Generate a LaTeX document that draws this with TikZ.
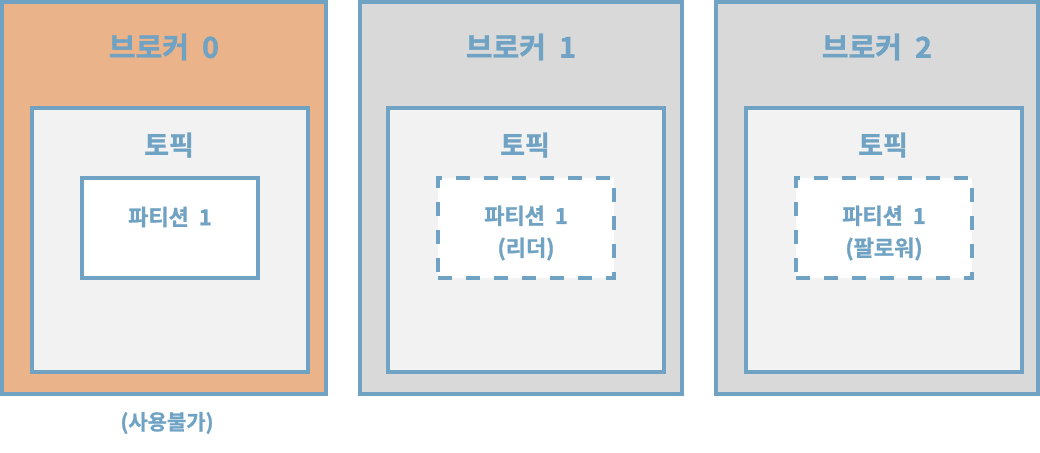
\documentclass[tikz,border=0pt]{standalone}
\usepackage{fontspec}
\newfontfamily\kr[FakeBold=1]{Noto Sans CJK KR Bold}
\definecolor{lineblue}{HTML}{6FA2C3}
\definecolor{brokerorange}{HTML}{EAB38A}
\definecolor{brokergray}{HTML}{D9D9D9}
\definecolor{topicgray}{HTML}{F2F2F2}
\newcommand{\wsp}{\hspace{0.45em}}
\tikzset{
  box/.style={draw=lineblue, line width=4pt, inner sep=0pt},
  brokerbox/.style={box, minimum width=322pt, minimum height=392pt, fill=brokergray},
  topicbox/.style={box, minimum width=276pt, minimum height=264pt, fill=topicgray},
  partbox/.style={box, minimum width=176pt, minimum height=100pt, fill=white},
  dashedpart/.style={partbox, dash pattern=on 14pt off 14pt},
  brokertext/.style={text=lineblue, font=\kr\fontsize{29pt}{32pt}\selectfont, inner sep=0pt},
  topictext/.style={text=lineblue, font=\kr\fontsize{27pt}{30pt}\selectfont, inner sep=0pt},
  smalltext/.style={text=lineblue, font=\kr\fontsize{22pt}{32pt}\selectfont, inner sep=0pt, align=center},
}
\begin{document}
\begin{tikzpicture}[x=1pt,y=-1pt]
\useasboundingbox (0,0) rectangle (1040,452);
% broker 0
\node[brokerbox, fill=brokerorange, minimum width=324pt] (b0) at (164,198) {};
\node[topicbox] (t0) at (170,240) {};
\node[partbox] (p0) at (170,228) {};
\node[brokertext] (b0l) at (164,47) {브로커\wsp 0};
\node[topictext] (t0l) at (169,145) {토픽};
\node[smalltext] (p0l) at (170,217) {파티션\wsp 1};
\node[smalltext, font=\kr\fontsize{21pt}{30pt}\selectfont] (u0) at (167,423) {(사용불가)};
% broker 1
\node[brokerbox] (b1) at (521,198) {};
\node[topicbox] (t1) at (526,240) {};
\node[dashedpart] (p1) at (526,228) {};
\node[brokertext] (b1l) at (521,47) {브로커\wsp 1};
\node[topictext] (t1l) at (525,145) {토픽};
\node[smalltext] (p1l) at (526,233) {파티션\wsp 1\\(리더)};
% broker 2
\node[brokerbox] (b2) at (877,198) {};
\node[topicbox] (t2) at (884,240) {};
\node[dashedpart] (p2) at (884,228) {};
\node[brokertext] (b2l) at (877,47) {브로커\wsp 2};
\node[topictext] (t2l) at (883,145) {토픽};
\node[smalltext] (p2l) at (884,233) {파티션\wsp 1\\(팔로워)};
\end{tikzpicture}
\end{document}
